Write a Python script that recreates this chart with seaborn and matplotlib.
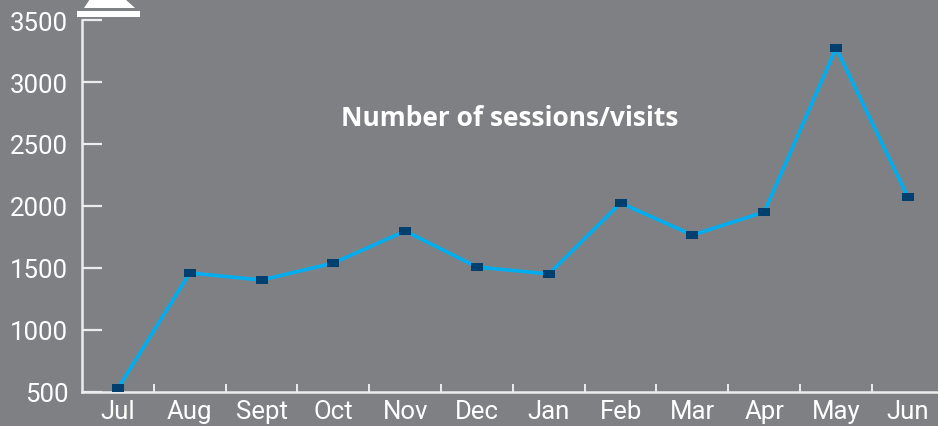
import numpy as np
import pandas as pd
import seaborn as sns
import matplotlib.pyplot as plt
from matplotlib.patches import Polygon, Rectangle
from matplotlib.ticker import FixedLocator

# chart values
months = ['Jul', 'Aug', 'Sept', 'Oct', 'Nov', 'Dec', 'Jan', 'Feb', 'Mar', 'Apr', 'May', 'Jun']
sessions = [530, 1460, 1403, 1540, 1798, 1508, 1452, 2024, 1766, 1952, 3274, 2073]
y_ticks = [500, 1000, 1500, 2000, 2500, 3000, 3500]

bg = '#7f8084'
axis_col = '#ececec'

sns.set_style('white')
plt.rcParams['font.family'] = ['Liberation Sans Narrow', 'Roboto', 'DejaVu Sans']

data = pd.DataFrame({'pos': np.arange(len(months)), 'sessions': sessions})

fig = plt.figure(figsize=(9.38, 4.27), dpi=100, facecolor=bg)
ax = fig.add_axes([82 / 938, 34 / 427, 856 / 938, 372 / 427])
ax.set_facecolor(bg)

# rectangular marker, a bit wider than tall
rect_marker = [(-1, -0.7), (1, -0.7), (1, 0.7), (-1, 0.7), (-1, -0.7)]
sns.lineplot(data=data, x='pos', y='sessions', ax=ax, color='#00aeef', linewidth=2.6,
             marker=rect_marker, markersize=8.5, markerfacecolor='#003f6e',
             markeredgewidth=0, zorder=3)

ax.set_xlim(-0.5, 11.42)
ax.set_ylim(500, 3500)
ax.set_xlabel('')
ax.set_ylabel('')

ax.set_xticks(data['pos'])
ax.set_xticklabels(months)
ax.xaxis.set_minor_locator(FixedLocator(np.arange(0.5, 11, 1)))
ax.set_yticks(y_ticks)

ax.tick_params(axis='x', which='major', length=0, pad=5, labelsize=18.5, labelcolor='white')
ax.tick_params(axis='x', which='minor', direction='in', length=6, width=1.4, color=axis_col, bottom=True)
ax.tick_params(axis='y', direction='in', length=14.5, width=1.6, color=axis_col, pad=10,
               labelsize=18.5, labelcolor='white', left=True)
for t in ax.get_yticklabels():
    t.set_horizontalalignment('right')

for side in ['top', 'right']:
    ax.spines[side].set_visible(False)
for side in ['left', 'bottom']:
    ax.spines[side].set_color(axis_col)
    ax.spines[side].set_linewidth(1.8)

ax.text(0.5, 0.738, 'Number of sessions/visits', transform=ax.transAxes, ha='center', va='center',
        color='white', fontsize=19, fontweight='bold', family=['Open Sans', 'DejaVu Sans'])

# the cap drawn above the y axis
W, H = 938, 427
fig.patches.append(Rectangle((77 / W, 1 - 18 / H), 63 / W, 6 / H, transform=fig.transFigure,
                             facecolor='white', edgecolor='none'))
fig.patches.append(Polygon([(84 / W, 1 - 9 / H), (135 / W, 1 - 9 / H), (125 / W, 1.0), (90 / W, 1.0)],
                           closed=True, transform=fig.transFigure, facecolor='white', edgecolor='none'))

fig.savefig('out.png', dpi=100, facecolor=bg)
